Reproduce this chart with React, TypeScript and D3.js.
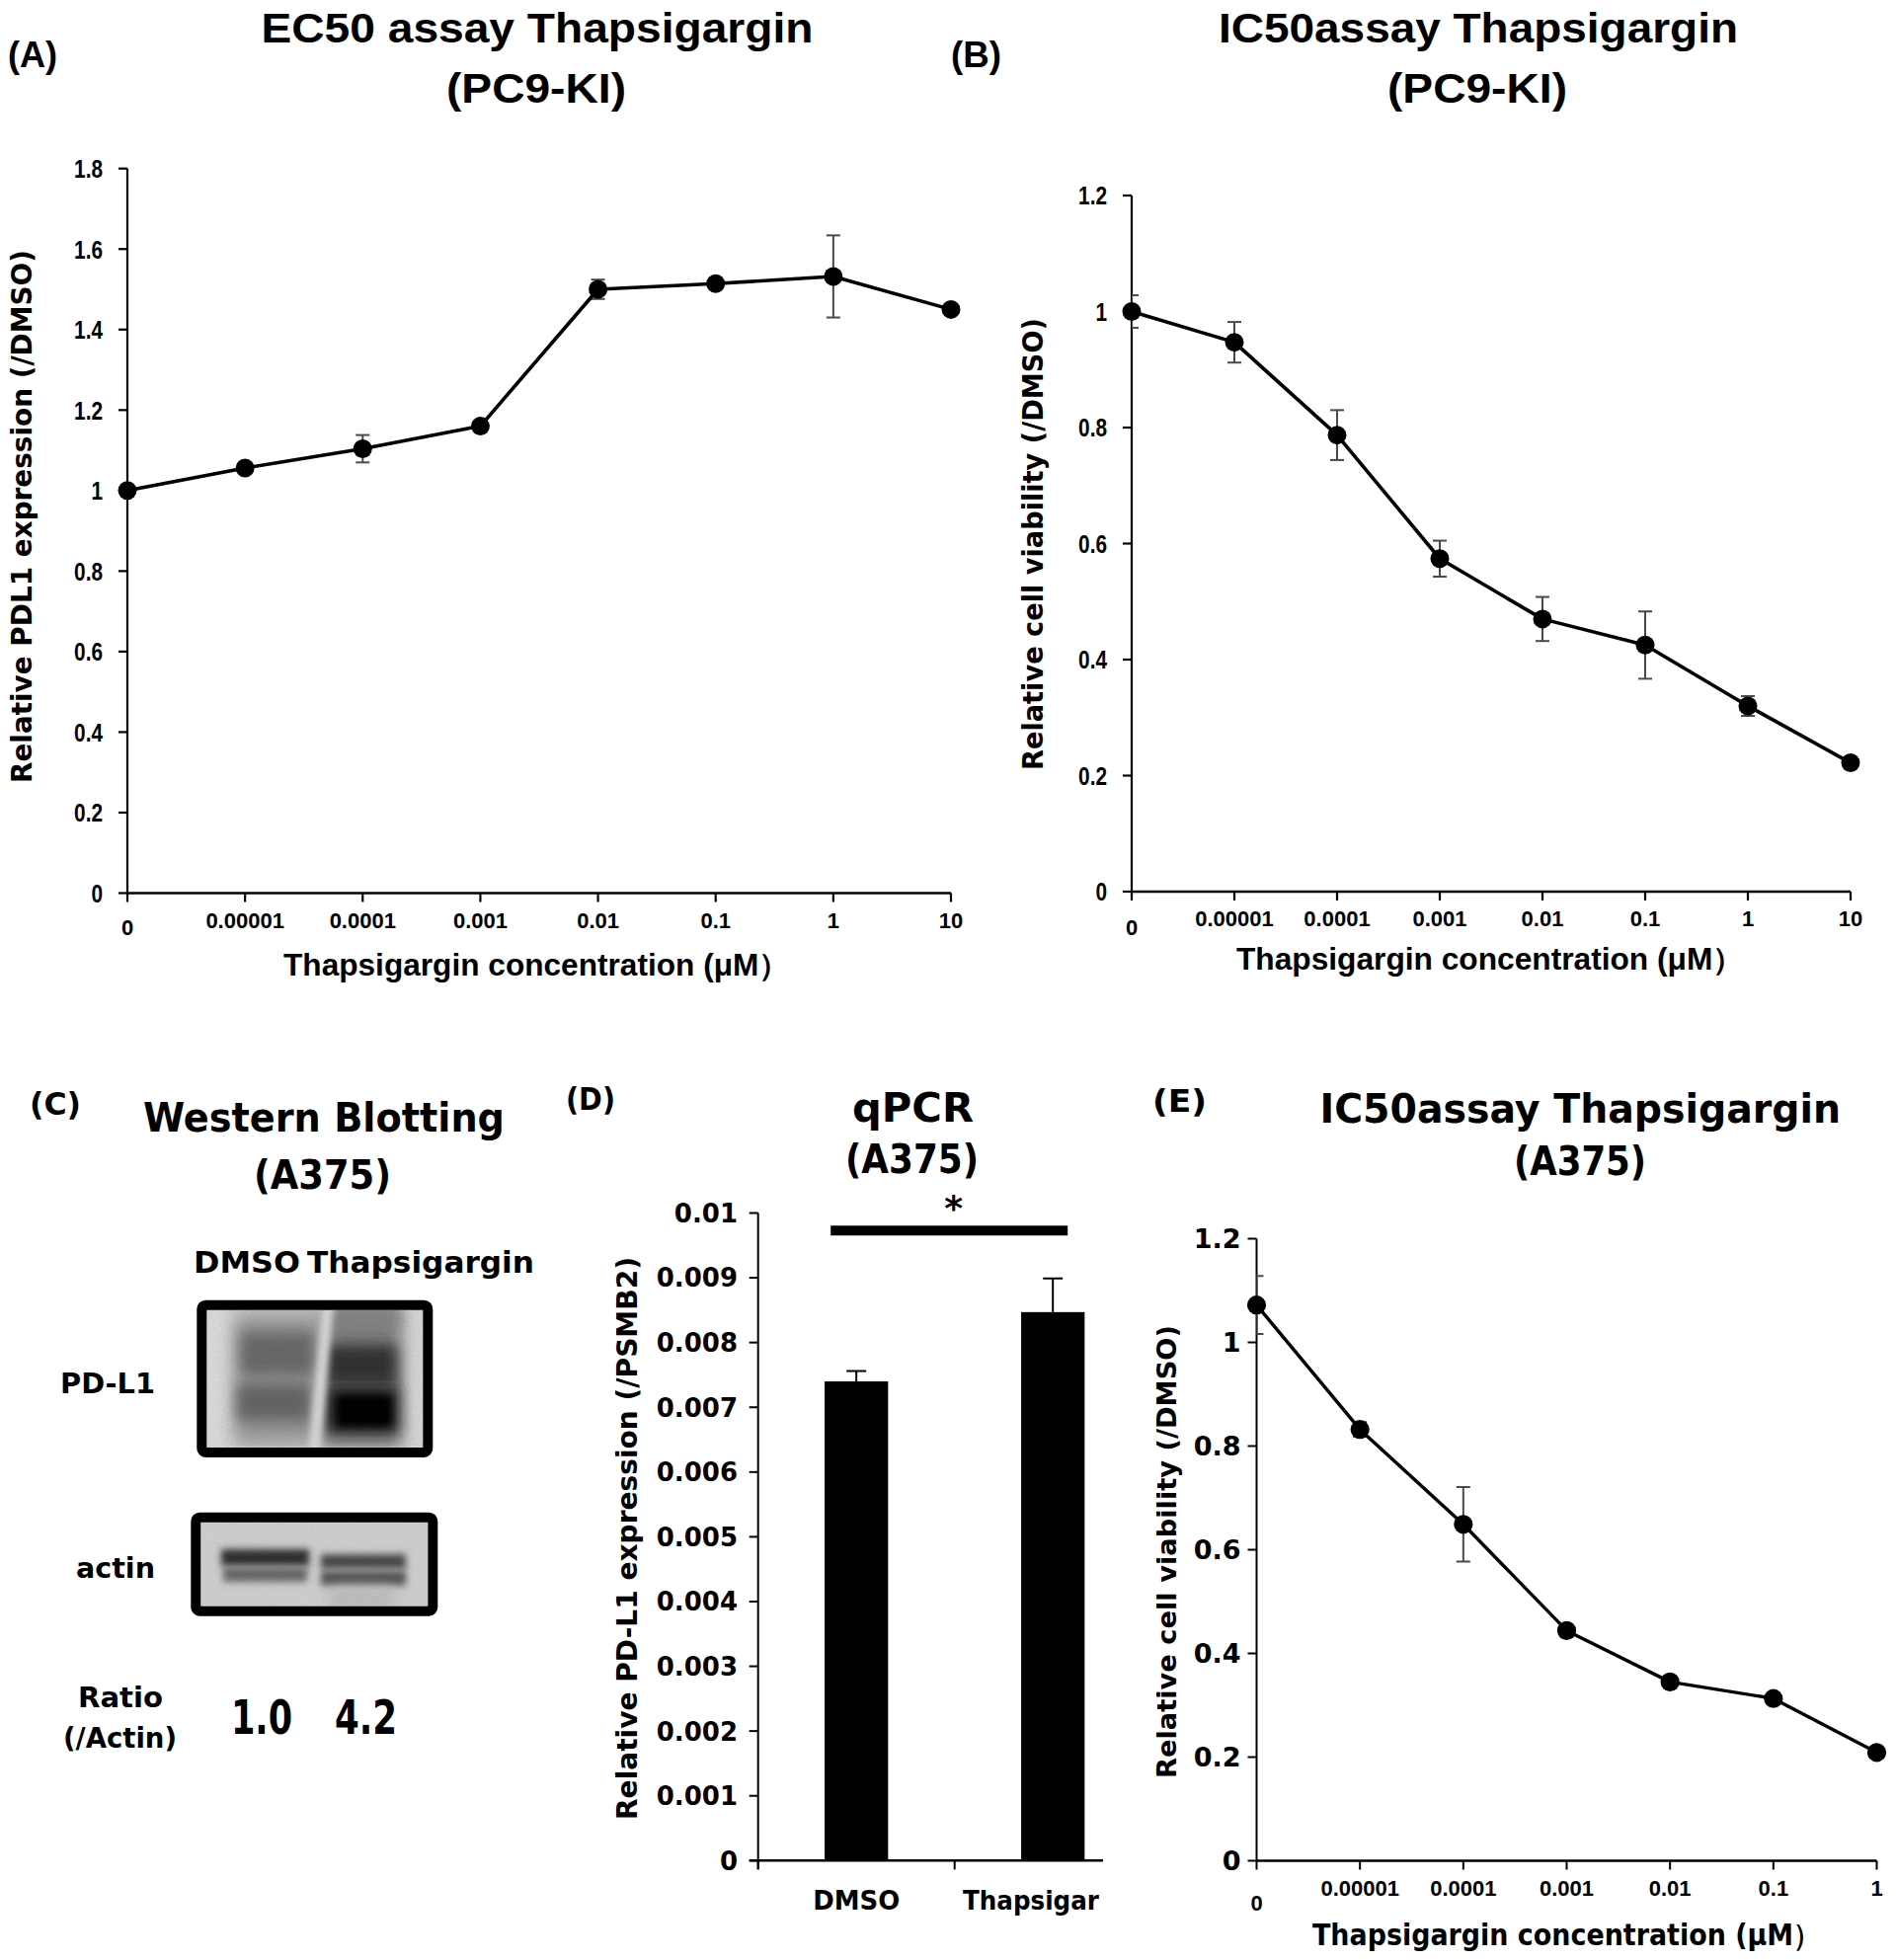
import React from "react";
import * as d3 from "d3";

// ---------------- data ----------------
const concPC9 = ["0", "0.00001", "0.0001", "0.001", "0.01", "0.1", "1", "10"];
const concA375 = ["0", "0.00001", "0.0001", "0.001", "0.01", "0.1", "1"];

const ec50Pc9Mean = [1.0, 1.056, 1.104, 1.16, 1.5, 1.514, 1.532, 1.45];
const ec50Pc9Err = [0, 0, 0.034, 0, 0.024, 0.012, 0.102, 0];

const ic50Pc9Mean = [1.0, 0.947, 0.787, 0.574, 0.47, 0.425, 0.32, 0.222];
const ic50Pc9Err = [0.028, 0.035, 0.043, 0.031, 0.038, 0.058, 0.017, 0];

const ic50A375Mean = [1.072, 0.832, 0.649, 0.444, 0.345, 0.313, 0.209];
const ic50A375Err = [0.056, 0.014, 0.072, 0, 0, 0, 0];

const qpcrGroups = ["DMSO", "Thapsigar"];
const qpcrMean = [0.0074, 0.00847];
const qpcrErr = [0.00016, 0.00052];
const qpcrSigLevel = 0.00973;

const blotLanes = ["DMSO", "Thapsigargin"];
const blotRatio = ["1.0", "4.2"];

const W = 1920;
const H = 1985;
const LIB = "'Liberation Sans', Arial, sans-serif";
const DJV = "'DejaVu Sans', Verdana, sans-serif";

const fmt = (d: number) => String(+d.toFixed(4));
// approximate Arial-bold advance width (em) of a numeric label
const numEm = (s: string) => s.split("").reduce((a, c) => a + (c === "." ? 0.278 : 0.556), 0);

type TxtProps = {
  x: number; y: number; s: string; size: number; font?: string; len?: number;
  anchor?: "start" | "middle" | "end"; dy?: string; rot?: boolean;
};
function Txt({ x, y, s, size, font = LIB, len, anchor = "start", dy, rot }: TxtProps) {
  if (rot) {
    return (
      <text transform={`translate(${x},${y}) rotate(-90)`} x={len ? -len / 2 : 0} y={0}
        fontFamily={font} fontSize={size} fontWeight="bold" fill="#000"
        textAnchor={len ? "start" : "middle"}
        textLength={len} lengthAdjust={len ? "spacingAndGlyphs" : undefined}>{s}</text>
    );
  }
  return (
    <text x={x} y={y} dy={dy} fontFamily={font} fontSize={size} fontWeight="bold" fill="#000"
      textAnchor={anchor} textLength={len} lengthAdjust={len ? "spacingAndGlyphs" : undefined}>{s}</text>
  );
}

type LineCfg = {
  id: string; cats: string[]; vals: number[]; errs: number[];
  x0: number; x1: number; yBottom: number; yTop: number; yMax: number; step: number;
  yTickFont: string; yTickSize: number; yTickGap: number; yTickSqueeze?: number;
  xTickFont: string; xTickSize: number; xTickBase: number; zeroBase: number;
  markerR: number; lineW: number; axisW: number;
};

function LineChart(o: LineCfg) {
  const x = d3.scalePoint<string>().domain(o.cats).range([o.x0, o.x1]);
  const y = d3.scaleLinear().domain([0, o.yMax]).range([o.yBottom, o.yTop]);
  const ticks = d3.range(0, Math.round(o.yMax / o.step) + 1).map((i) => i * o.step);
  const pts: [number, number][] = o.vals.map((v, i) => [x(o.cats[i])!, y(v)]);
  const line = d3.line()(pts) || "";
  return (
    <g>
      <defs>
        <clipPath id={o.id + "clip"}>
          <rect x={o.x0} y={0} width={o.x1 - o.x0 + 40} height={H} />
        </clipPath>
      </defs>
      <line x1={o.x0} x2={o.x0} y1={y(o.yMax)} y2={o.yBottom} stroke="#000" strokeWidth={o.axisW} />
      {ticks.map((t) => {
        const lab = fmt(t);
        const len = o.yTickSqueeze ? numEm(lab) * o.yTickSize * o.yTickSqueeze : undefined;
        return (
          <g key={"yt" + t}>
            <line x1={o.x0 - 9} x2={o.x0} y1={y(t)} y2={y(t)} stroke="#000" strokeWidth={o.axisW} />
            {len ? (
              <Txt x={o.x0 - o.yTickGap - len} y={y(t)} dy="0.36em" s={lab} size={o.yTickSize} font={o.yTickFont} len={len} />
            ) : (
              <Txt x={o.x0 - o.yTickGap} y={y(t)} dy="0.36em" s={lab} size={o.yTickSize} font={o.yTickFont} anchor="end" />
            )}
          </g>
        );
      })}
      <line x1={o.x0} x2={o.x1} y1={o.yBottom} y2={o.yBottom} stroke="#000" strokeWidth={o.axisW + 0.5} />
      {o.cats.map((c, i) => (
        <g key={"xt" + c}>
          <line x1={x(c)!} x2={x(c)!} y1={o.yBottom} y2={o.yBottom + 9} stroke="#000" strokeWidth={o.axisW} />
          <Txt x={x(c)!} y={i === 0 ? o.zeroBase : o.xTickBase} s={c} size={o.xTickSize} font={o.xTickFont} anchor="middle" />
        </g>
      ))}
      <g clipPath={`url(#${o.id}clip)`} stroke="#4a4a4a" strokeWidth={2}>
        {o.vals.map((v, i) =>
          o.errs[i] > 0 ? (
            <g key={"e" + i}>
              <line x1={pts[i][0]} x2={pts[i][0]} y1={y(v + o.errs[i])} y2={y(v - o.errs[i])} />
              <line x1={pts[i][0] - 7} x2={pts[i][0] + 7} y1={y(v + o.errs[i])} y2={y(v + o.errs[i])} />
              <line x1={pts[i][0] - 7} x2={pts[i][0] + 7} y1={y(v - o.errs[i])} y2={y(v - o.errs[i])} />
            </g>
          ) : null
        )}
      </g>
      <path d={line} fill="none" stroke="#000" strokeWidth={o.lineW} strokeLinejoin="round" />
      {pts.map((p, i) => (
        <circle key={"m" + i} cx={p[0]} cy={p[1]} r={o.markerR} fill="#000" />
      ))}
    </g>
  );
}

function BarChart() {
  const x0 = 767.7, step = 199, yBottom = 1884.3, yTop = 1228.5;
  const xb = d3.scaleBand<string>().domain(qpcrGroups).range([x0, x0 + step * qpcrGroups.length])
    .paddingInner(0.677).paddingOuter(0.3385);
  const y = d3.scaleLinear().domain([0, 0.01]).range([yBottom, yTop]);
  const ticks = d3.range(0, 11).map((i) => i / 1000);
  const bw = xb.bandwidth();
  const c0 = xb(qpcrGroups[0])! + bw / 2;
  const c1 = xb(qpcrGroups[1])! + bw / 2;
  const boundaries = [x0, x0 + step];
  return (
    <g>
      <defs>
        <clipPath id="dclip"><rect x={0} y={0} width={1118} height={H} /></clipPath>
      </defs>
      <g clipPath="url(#dclip)">
        <line x1={x0} x2={x0} y1={yTop} y2={yBottom + 9} stroke="#000" strokeWidth={2} />
        {ticks.map((t) => (
          <g key={"dt" + t}>
            <line x1={x0 - 9} x2={x0} y1={y(t)} y2={y(t)} stroke="#000" strokeWidth={2} />
            <Txt x={747} y={y(t)} dy="0.36em" s={fmt(t)} size={26} font={DJV} anchor="end" />
          </g>
        ))}
        <line x1={x0 - 9} x2={1117} y1={yBottom} y2={yBottom} stroke="#000" strokeWidth={2.5} />
        {boundaries.map((b) => (
          <line key={"b" + b} x1={b} x2={b} y1={yBottom} y2={yBottom + 9} stroke="#000" strokeWidth={2} />
        ))}
        {qpcrGroups.map((g, i) => (
          <g key={g}>
            <rect x={xb(g)!} y={y(qpcrMean[i])} width={bw} height={yBottom - y(qpcrMean[i])} fill="#000" />
            <line x1={xb(g)! + bw / 2} x2={xb(g)! + bw / 2} y1={y(qpcrMean[i])} y2={y(qpcrMean[i] + qpcrErr[i])} stroke="#000" strokeWidth={2} />
            <line x1={xb(g)! + bw / 2 - 10} x2={xb(g)! + bw / 2 + 10} y1={y(qpcrMean[i] + qpcrErr[i])} y2={y(qpcrMean[i] + qpcrErr[i])} stroke="#000" strokeWidth={2} />
          </g>
        ))}
        <line x1={c0 - 26} x2={c1 + 15} y1={y(qpcrSigLevel)} y2={y(qpcrSigLevel)} stroke="#000" strokeWidth={10} />
        <Txt x={(c0 + c1) / 2 - 1} y={1236} s="*" size={36} font={DJV} anchor="middle" />
        <Txt x={c0} y={1934} s={qpcrGroups[0]} size={26} font={DJV} anchor="middle" len={88} />
        <Txt x={975} y={1934} s={qpcrGroups[1]} size={26} font={DJV} len={138} />
      </g>
    </g>
  );
}

function Blot() {
  return (
    <g>
      <defs>
        <filter id="bl9" x="-50%" y="-50%" width="200%" height="200%"><feGaussianBlur stdDeviation="9" /></filter>
        <filter id="bl7" x="-50%" y="-50%" width="200%" height="200%"><feGaussianBlur stdDeviation="7" /></filter>
        <filter id="bl4" x="-50%" y="-50%" width="200%" height="200%"><feGaussianBlur stdDeviation="3.6" /></filter>
        <filter id="bl3" x="-50%" y="-50%" width="200%" height="200%"><feGaussianBlur stdDeviation="3" /></filter>
        <filter id="grain" x="0" y="0" width="100%" height="100%">
          <feTurbulence type="fractalNoise" baseFrequency="0.9" numOctaves="2" seed="3" />
          <feColorMatrix type="matrix" values="0 0 0 0 0  0 0 0 0 0  0 0 0 0 0  0 0 0 0.5 0" />
        </filter>
        <clipPath id="pdc"><rect x={209} y={1326.7} width={219.3} height={139} /></clipPath>
        <clipPath id="acc"><rect x={203.3} y={1541} width={230} height={86} /></clipPath>
      </defs>
      <g clipPath="url(#pdc)">
        <rect x={209} y={1326.7} width={219.3} height={139} fill="#d0d0d0" />
        <rect x={196} y={1316} width={40} height={160} fill="#e6e6e6" filter="url(#bl9)" />
        <rect x={404} y={1316} width={40} height={160} fill="#e2e2e2" filter="url(#bl9)" />
        <rect x={238} y={1334} width={86} height={126} fill="#9c9c9c" filter="url(#bl9)" />
        <rect x={244} y={1350} width={74} height={42} fill="#6e6e6e" filter="url(#bl7)" />
        <rect x={240} y={1402} width={74} height={36} fill="#6a6a6a" filter="url(#bl7)" />
        <rect x={326} y={1326} width={80} height={140} fill="#868686" filter="url(#bl9)" />
        <rect x={336} y={1322} width={68} height={22} fill="#8a8a8a" filter="url(#bl7)" />
        <rect x={330} y={1362} width={72} height={40} fill="#363636" filter="url(#bl7)" />
        <rect x={330} y={1404} width={74} height={48} fill="#1a1a1a" filter="url(#bl7)" />
        <rect x={342} y={1414} width={54} height={30} fill="#000" filter="url(#bl4)" />
        <polygon points="326,1320 338,1320 324,1472 312,1472" fill="#e2e2e2" filter="url(#bl3)" />
        <rect x={209} y={1326.7} width={219.3} height={139} filter="url(#grain)" opacity={0.28} />
      </g>
      <rect x={204.3} y={1321.7} width={229} height={149.3} rx={4} fill="none" stroke="#000" strokeWidth={10} />
      <g clipPath="url(#acc)">
        <rect x={203.3} y={1541} width={230} height={86} fill="#d6d6d6" />
        <rect x={224} y={1569} width={89} height={17} fill="#323232" filter="url(#bl4)" />
        <rect x={226} y={1587} width={85} height={15} fill="#6c6c6c" filter="url(#bl4)" />
        <rect x={325} y={1574} width={86} height={15} fill="#4e4e4e" filter="url(#bl4)" />
        <rect x={325} y={1591} width={86} height={15} fill="#585858" filter="url(#bl4)" />
        <rect x={332} y={1608} width={68} height={22} fill="#c2c2c2" filter="url(#bl7)" />
        <rect x={203.3} y={1541} width={230} height={86} filter="url(#grain)" opacity={0.2} />
      </g>
      <rect x={198.3} y={1536.7} width={240} height={95} rx={4} fill="none" stroke="#000" strokeWidth={10} />
    </g>
  );
}

export default function App() {
  const xTitle = "Thapsigargin concentration (μM）";
  return (
    <svg width={W} height={H} viewBox={`0 0 ${W} ${H}`} style={{ position: "absolute", left: 0, top: 0 }}
      xmlns="http://www.w3.org/2000/svg">
      <rect x={0} y={0} width={W} height={H} fill="#fff" />

      {/* ---------- Panel A ---------- */}
      <Txt x={8} y={68} s="(A)" size={36} len={50} />
      <Txt x={264.5} y={42.5} s="EC50 assay Thapsigargin" size={43} len={559} />
      <Txt x={452} y={104} s="(PC9-KI)" size={43} len={182} />
      <LineChart id="a" cats={concPC9} vals={ec50Pc9Mean} errs={ec50Pc9Err}
        x0={129} x1={963} yBottom={904.5} yTop={170.7} yMax={1.8} step={0.2}
        yTickFont={LIB} yTickSize={26} yTickGap={25} yTickSqueeze={0.8}
        xTickFont={LIB} xTickSize={22} xTickBase={940} zeroBase={947}
        markerR={9.5} lineW={3.6} axisW={2.2} />
      <Txt x={287} y={988} s={xTitle} size={31} len={513} />
      <Txt x={32} y={523} s="Relative PDL1 expression (/DMSO)" size={28} font={DJV} len={540} rot />

      {/* ---------- Panel B ---------- */}
      <Txt x={963} y={68} s="(B)" size={36} len={51} />
      <Txt x={1234} y={43} s="IC50assay Thapsigargin" size={43} len={526} />
      <Txt x={1405} y={104} s="(PC9-KI)" size={43} len={182} />
      <LineChart id="b" cats={concPC9} vals={ic50Pc9Mean} errs={ic50Pc9Err}
        x0={1146} x1={1874} yBottom={903} yTop={198} yMax={1.2} step={0.2}
        yTickFont={LIB} yTickSize={26} yTickGap={25} yTickSqueeze={0.8}
        xTickFont={LIB} xTickSize={22} xTickBase={938} zeroBase={947}
        markerR={9.5} lineW={3.6} axisW={2.2} />
      <Txt x={1252} y={982} s={xTitle} size={31} len={514} />
      <Txt x={1056} y={551} s="Relative cell viability (/DMSO)" size={28} font={DJV} len={458} rot />

      {/* ---------- Panel C ---------- */}
      <Txt x={30} y={1129} s="(C)" size={32} font={DJV} len={52} />
      <Txt x={145} y={1146} s="Western Blotting" size={40} font={DJV} len={366} />
      <Txt x={257} y={1204} s="(A375)" size={40} font={DJV} len={139} />
      <Txt x={196} y={1289} s={blotLanes[0]} size={30} font={DJV} len={108} />
      <Txt x={311} y={1289} s={blotLanes[1]} size={30} font={DJV} len={230} />
      <Txt x={61} y={1411} s="PD-L1" size={28} font={DJV} len={96} />
      <Txt x={77} y={1598} s="actin" size={28} font={DJV} len={80} />
      <Blot />
      <Txt x={79} y={1729} s="Ratio" size={29} font={DJV} len={86} />
      <Txt x={64} y={1770} s="(/Actin)" size={28} font={DJV} len={115} />
      <Txt x={234} y={1756} s={blotRatio[0]} size={48} font={DJV} len={62} />
      <Txt x={339} y={1756} s={blotRatio[1]} size={48} font={DJV} len={63} />

      {/* ---------- Panel D ---------- */}
      <Txt x={573} y={1124} s="(D)" size={32} font={DJV} len={50} />
      <Txt x={863} y={1136} s="qPCR" size={40} font={DJV} len={123} />
      <Txt x={856} y={1188} s="(A375)" size={40} font={DJV} len={135} />
      <BarChart />
      <Txt x={645} y={1558} s="Relative PD-L1 expression (/PSMB2)" size={28} font={DJV} len={570} rot />

      {/* ---------- Panel E ---------- */}
      <Txt x={1167} y={1126} s="(E)" size={32} font={DJV} len={55} />
      <Txt x={1336.5} y={1136.5} s="IC50assay Thapsigargin" size={40} font={DJV} len={527.5} />
      <Txt x={1533} y={1190} s="(A375)" size={40} font={DJV} len={134} />
      <LineChart id="e" cats={concA375} vals={ic50A375Mean} errs={ic50A375Err}
        x0={1272.5} x1={1900.5} yBottom={1884.5} yTop={1254.5} yMax={1.2} step={0.2}
        yTickFont={DJV} yTickSize={27} yTickGap={16}
        xTickFont={LIB} xTickSize={22} xTickBase={1920} zeroBase={1935}
        markerR={9.6} lineW={3.4} axisW={2} />
      <Txt x={1329} y={1970} s={xTitle} size={30} font={DJV} len={514} />
      <Txt x={1191} y={1571.5} s="Relative cell viability (/DMSO)" size={27} font={DJV} len={459} rot />
    </svg>
  );
}
